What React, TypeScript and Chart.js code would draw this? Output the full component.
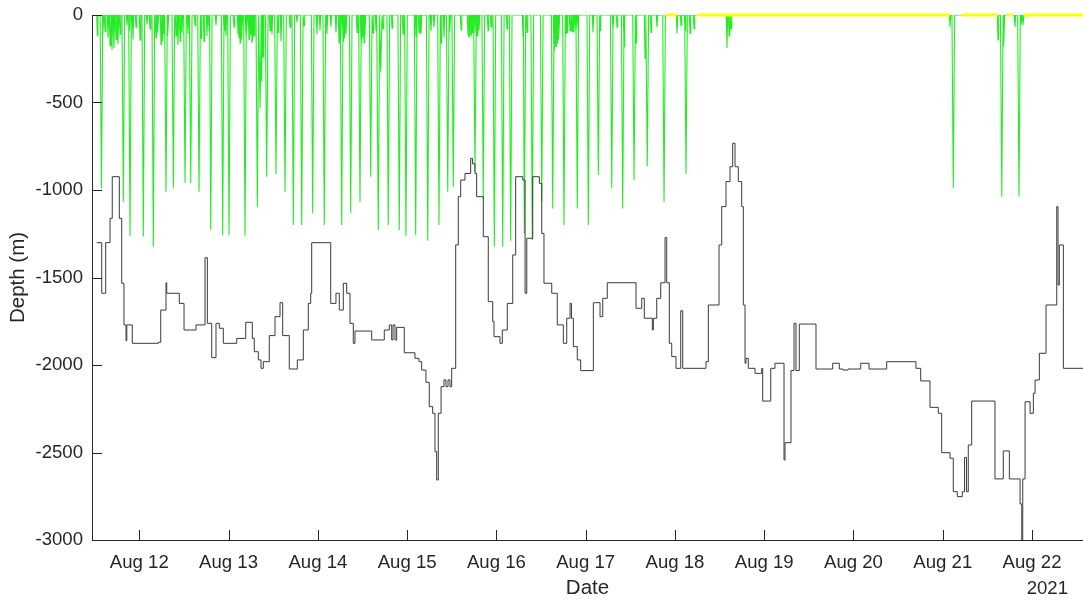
import React, { useEffect, useRef } from 'react';
import { Chart, registerables } from 'chart.js';

Chart.register(...registerables);

// ---------- axes ----------
const X_MIN = 11.47; // day of August 2021
const X_MAX = 22.571;
const X_TICKS = [12, 13, 14, 15, 16, 17, 18, 19, 20, 21, 22];
const X_TICK_LABELS = ['Aug 12', 'Aug 13', 'Aug 14', 'Aug 15', 'Aug 16', 'Aug 17', 'Aug 18', 'Aug 19', 'Aug 20', 'Aug 21', 'Aug 22'];
const YEAR_LABEL = '2021';
const X_TITLE = 'Date';
const Y_MIN = -3000;
const Y_MAX = 0;
const Y_TICKS = [0, -500, -1000, -1500, -2000, -2500, -3000];
const Y_TICK_LABELS = ['0', '-500', '-1000', '-1500', '-2000', '-2500', '-3000'];
const Y_TITLE = 'Depth (m)';

// ---------- seafloor depth (step series: value holds from its time to the next) ----------
const BATHY_T = [
  11.523, 11.579, 11.623, 11.672, 11.697, 11.776, 11.803, 11.828, 11.851, 11.860, 11.921,
  12.213, 12.240, 12.299, 12.307, 12.448, 12.501, 12.635, 12.736, 12.762, 12.811, 12.859, 12.896, 12.941,
  13.091, 13.192, 13.266, 13.288, 13.333, 13.363, 13.389, 13.456, 13.520, 13.576, 13.606, 13.680, 13.770, 13.837, 13.893, 13.920, 13.931,
  14.144, 14.203, 14.240, 14.285, 14.323, 14.360, 14.397, 14.416, 14.603, 14.744, 14.800, 14.827, 14.842, 14.864, 14.883, 14.968,
  15.088, 15.133, 15.163, 15.211, 15.248, 15.286, 15.312, 15.331, 15.349, 15.380, 15.413, 15.435, 15.458, 15.480, 15.499, 15.544, 15.573, 15.600, 15.648, 15.712, 15.732, 15.760, 15.779, 15.853, 15.909, 15.959, 15.973,
  16.040, 16.066, 16.122, 16.183, 16.216, 16.295, 16.321, 16.340, 16.407, 16.481, 16.508, 16.533, 16.620, 16.682, 16.750, 16.788, 16.825, 16.841, 16.862, 16.906, 16.944,
  17.086, 17.161, 17.191, 17.242, 17.564, 17.628, 17.657, 17.747, 17.758, 17.796, 17.841, 17.889, 17.908, 17.937, 17.964,
  18.012, 18.065, 18.087, 18.348, 18.374, 18.494, 18.524, 18.572, 18.617, 18.647, 18.673, 18.710, 18.748, 18.766, 18.785, 18.796, 18.822, 18.897, 18.972, 18.983,
  19.073, 19.121, 19.222, 19.233, 19.300, 19.334, 19.356, 19.393, 19.580, 19.767, 19.841, 19.883, 19.939,
  20.081, 20.174, 20.372, 20.700, 20.753, 20.857, 20.950, 20.988,
  21.081, 21.118, 21.163, 21.219, 21.244, 21.266, 21.286, 21.324, 21.585, 21.678, 21.746, 21.866, 21.885, 21.896, 21.922, 21.978,
  22.015, 22.034, 22.082, 22.157, 22.277, 22.291, 22.306, 22.351, 22.600,
];
const BATHY_D = [
  -1301, -1590, -1301, -1162, -924, -1162, -1533, -1771, -1861, -1771, -1876,
  -1870, -1686, -1530, -1590, -1648, -1800, -1771, -1387, -1762, -1958, -1762, -1790, -1876,
  -1848, -1756, -1848, -1924, -1971, -2019, -1981, -1832, -1724, -1644, -1832, -2023, -1971, -1800, -1648, -1590, -1301,
  -1648, -1590, -1686, -1533, -1590, -1762, -1876, -1806, -1857, -1800, -1771, -1857, -1771, -1857, -1785, -1930,
  -1962, -1981, -2029, -2099, -2238, -2276, -2495, -2657, -2276, -2124, -2085, -2124, -2085, -2124, -2019, -1314, -1038, -943, -905, -819, -850, -905, -1038, -1267, -1638, -1752, -1838,
  -1876, -1800, -1648, -1371, -924, -943, -1590, -1276, -924, -962, -1248, -1533, -1590, -1771, -1876, -1733, -1648, -1733, -1895, -1971, -2032,
  -1644, -1724, -1619, -1530, -1676, -1619, -1733, -1800, -1733, -1619, -1530, -1271, -1530, -1876, -1952,
  -2019, -1690, -2019, -1981, -1657, -1314, -1095, -952, -867, -733, -867, -952, -1095, -1657, -1990, -1962, -2019, -2048, -2019, -2206,
  -2019, -1990, -2543, -2444, -2032, -1762, -2032, -1766, -2023, -1990, -2023, -2029, -2023,
  -1990, -2023, -1981, -2019, -2091, -2242, -2276, -2501,
  -2533, -2724, -2752, -2724, -2528, -2724, -2457, -2206, -2651, -2491, -2651, -2794, -3000, -2651, -2210, -2276,
  -2162, -2086, -1933, -1657, -1095, -1543, -1314, -2019, -2019,
];

// ---------- dive profile ----------
const DIVE_START = 11.523;
const DIVE_END = 22.6;
const DEEP_T = [
  11.576, 11.821, 11.896, 12.045, 12.157, 12.299, 12.381, 12.512, 12.576, 12.669, 12.800, 12.934, 13.005, 13.184,
  13.322, 13.352, 13.427, 13.531, 13.632, 13.725, 13.819, 13.942, 14.072, 14.267, 14.368, 14.472, 14.592, 14.677,
  14.704, 14.789, 14.912, 14.987, 15.096, 15.231, 15.357, 15.455, 15.517, 15.760, 15.853, 15.977, 16.071, 16.160,
  16.313, 16.402, 16.508, 16.631, 16.757, 16.906, 17.030, 17.142, 17.292, 17.415, 17.542, 17.690, 17.878, 18.124,
  21.118, 21.661, 21.854,
];
const DEEP_D = [
  -990, -1067, -1263, -1265, -1324, -1010, -990, -958, -960, -1010, -1229, -1259, -1259, -1262,
  -1099, -531, -924, -909, -1010, -1200, -1200, -1133, -1200, -1200, -1130, -1067, -924, -1229,
  -324, -1200, -1229, -1263, -1257, -1290, -1200, -1010, -981, -895, -1050, -1324, -1324, -1290,
  -1248, -1286, -1067, -1105, -1200, -1105, -1200, -914, -990, -1105, -943, -863, -1067, -909,
  -990, -1038, -1038,
];
const SHALLOW_T = [
  11.529, 11.593, 11.616, 11.649, 11.672, 11.694, 11.716, 11.739, 11.761, 11.784, 11.862, 11.890, 11.929, 11.963,
  12.008, 12.086, 12.120, 12.187, 12.209, 12.243, 12.265, 12.321, 12.411, 12.433, 12.456, 12.478, 12.545, 12.624,
  12.691, 12.725, 12.758, 12.781, 12.859, 12.949, 12.971, 13.061, 13.106, 13.128, 13.150, 13.206, 13.229, 13.262,
  13.285, 13.374, 13.386, 13.464, 13.486, 13.554, 13.587, 13.688, 13.766, 13.845, 13.990, 14.024, 14.102, 14.147,
  14.203, 14.237, 14.282, 14.315, 14.439, 14.494, 14.528, 14.618, 14.651, 14.730, 14.831, 14.954, 15.099, 15.133,
  15.155, 15.267, 15.301, 15.380, 15.413, 15.480, 15.604, 15.682, 15.704, 15.727, 15.783, 15.805, 15.906, 15.940,
  16.119, 16.298, 16.343, 16.645, 16.668, 16.690, 16.780, 16.825, 16.869, 16.914, 17.082, 17.161, 17.306, 17.351,
  17.430, 17.564, 17.665, 17.732, 17.799, 18.023, 18.068, 18.113, 18.169, 18.214, 18.583, 18.606, 18.628,
  21.081, 21.619, 21.686, 21.809, 21.885, 21.903,
  12.198, 12.254, 12.276, 13.117, 13.139, 13.195, 13.240, 13.273, 14.248, 14.259, 14.293, 14.483, 14.505, 14.517,
  15.693, 15.716, 15.749, 15.771, 16.656, 16.679, 16.701, 16.791, 16.847, 16.891,
];
const SHALLOW_D = [
  -118, -150, -95, -130, -175, -200, -190, -140, -165, -110, -60, -90, -140, -70,
  -142, -55, -80, -130, -100, -170, -150, -120, -120, -171, -150, -100, -110, -60,
  -133, -150, -120, -90, -57, -90, -120, -70, -110, -160, -140, -90, -140, -160,
  -120, -381, -240, -90, -110, -100, -150, -70, -40, -60, -110, -90, -110, -70,
  -100, -160, -150, -110, -100, -160, -150, -103, -90, -80, -75, -108, -124, -100,
  -110, -91, -70, -160, -130, -95, -85, -110, -124, -100, -120, -90, -90, -70,
  -80, -124, -100, -219, -180, -150, -105, -90, -100, -80, -100, -90, -90, -70,
  -181, -160, -248, -100, -70, -105, -60, -90, -105, -80, -189, -120, -80,
  -68, -143, -181, -68, -57, -40,
  -120, -140, -110, -130, -150, -120, -110, -150, -140, -120, -130, -140, -130, -160,
  -120, -115, -110, -105, -200, -160, -140, -100, -95, -100,
];
const DEEP_HALF_DURATION = 0.015; // days
const SHALLOW_HALF_DURATION = 0.008;

// ---------- time at surface (yellow) ----------
const SURFACE_START = [17.900, 18.247, 21.212, 21.716, 21.910];
const SURFACE_END = [18.023, 21.081, 21.619, 21.787, 22.600];

// ---------- styles ----------
const AXIS_COLOR = '#262626';
const TICK_FONT = 18.6;
const TITLE_FONT = 20.5;
const FONT_FAMILY = '"Liberation Sans", Arial, Helvetica, sans-serif';

function buildBathy() {
  return BATHY_T.map((t, i) => ({ x: t, y: BATHY_D[i] }));
}

function buildDives() {
  const dives = [
    ...DEEP_T.map((t, i) => ({ t, d: DEEP_D[i], h: DEEP_HALF_DURATION })),
    ...SHALLOW_T.map((t, i) => ({ t, d: SHALLOW_D[i], h: SHALLOW_HALF_DURATION })),
  ].sort((a, b) => a.t - b.t);
  const pts: { x: number; y: number }[] = [{ x: DIVE_START, y: 0 }];
  dives.forEach((dv) => {
    pts.push({ x: dv.t - dv.h, y: 0 });
    pts.push({ x: dv.t, y: dv.d });
    pts.push({ x: dv.t + dv.h, y: 0 });
  });
  pts.push({ x: DIVE_END, y: 0 });
  return pts;
}

function buildSurface() {
  const pts: { x: number; y: number | null }[] = [];
  SURFACE_START.forEach((s, i) => {
    pts.push({ x: s, y: 0 });
    pts.push({ x: SURFACE_END[i], y: 0 });
    pts.push({ x: SURFACE_END[i], y: null });
  });
  return pts;
}

const axisDecor = {
  id: 'axisDecor',
  afterDraw(chart: any) {
    const { ctx, chartArea, scales } = chart;
    const xs = scales.x;
    const ys = scales.y;
    ctx.save();
    ctx.strokeStyle = AXIS_COLOR;
    ctx.lineWidth = 1;
    ctx.beginPath();
    X_TICKS.forEach((v) => {
      const px = Math.round(xs.getPixelForValue(v)) + 0.5;
      ctx.moveTo(px, chartArea.bottom);
      ctx.lineTo(px, chartArea.bottom - 10);
    });
    Y_TICKS.forEach((v) => {
      const py = Math.round(ys.getPixelForValue(v)) + 0.5;
      ctx.moveTo(chartArea.left, py);
      ctx.lineTo(chartArea.left + 10, py);
    });
    ctx.stroke();
    ctx.fillStyle = AXIS_COLOR;
    ctx.font = `${TICK_FONT}px ${FONT_FAMILY}`;
    ctx.textAlign = 'right';
    ctx.textBaseline = 'middle';
    ctx.fillText(YEAR_LABEL, chartArea.right - 15, chartArea.bottom + 49);
    ctx.restore();
  },
};

export default function App() {
  const ref = useRef<HTMLCanvasElement | null>(null);
  useEffect(() => {
    if (!ref.current) return;
    const chart = new Chart(ref.current, {
      type: 'line',
      data: {
        datasets: [
          {
            label: 'Surface',
            data: buildSurface(),
            borderColor: '#ffff00',
            borderWidth: 3,
            pointRadius: 0,
            spanGaps: false,
            tension: 0,
            clip: false,
          },
          {
            label: 'Seafloor',
            data: buildBathy(),
            borderColor: '#3a3a3a',
            borderWidth: 1,
            pointRadius: 0,
            stepped: 'before',
            tension: 0,
          },
          {
            label: 'Dives',
            data: buildDives(),
            borderColor: 'rgb(40,235,40)',
            borderWidth: 1.1,
            pointRadius: 0,
            tension: 0,
          },
        ],
      },
      options: {
        responsive: false,
        animation: false,
        devicePixelRatio: 1,
        parsing: false,
        normalized: true,
        events: [],
        layout: { padding: { top: 15, left: 0, right: 0, bottom: 0 } },
        plugins: { legend: { display: false }, tooltip: { enabled: false }, title: { display: false } },
        scales: {
          x: {
            type: 'linear',
            min: X_MIN,
            max: X_MAX,
            afterFit: (s: any) => { s.height = 61; s.paddingLeft = 0; s.paddingRight = 0; s.paddingTop = 0; s.paddingBottom = 0; },
            afterBuildTicks: (s: any) => { s.ticks = X_TICKS.map((v) => ({ value: v })); },
            grid: { display: false, drawTicks: false },
            border: { display: true, color: AXIS_COLOR, width: 1 },
            ticks: {
              autoSkip: false,
              maxRotation: 0,
              padding: 12,
              color: AXIS_COLOR,
              font: { family: FONT_FAMILY, size: TICK_FONT },
              callback: (v: any) => X_TICK_LABELS[X_TICKS.indexOf(Number(v))] ?? '',
            },
            title: {
              display: true,
              text: X_TITLE,
              color: AXIS_COLOR,
              font: { family: FONT_FAMILY, size: TITLE_FONT },
              padding: { top: 0, bottom: 0 },
            },
          },
          y: {
            type: 'linear',
            min: Y_MIN,
            max: Y_MAX,
            afterFit: (s: any) => { s.width = 92; s.paddingTop = 0; s.paddingBottom = 0; s.paddingLeft = 0; s.paddingRight = 0; },
            afterBuildTicks: (s: any) => { s.ticks = Y_TICKS.map((v) => ({ value: v })); },
            grid: { display: false, drawTicks: false },
            border: { display: true, color: AXIS_COLOR, width: 1 },
            ticks: {
              autoSkip: false,
              padding: 9,
              color: AXIS_COLOR,
              font: { family: FONT_FAMILY, size: TICK_FONT },
              callback: (v: any) => Y_TICK_LABELS[Y_TICKS.indexOf(Number(v))] ?? '',
            },
            title: {
              display: true,
              text: Y_TITLE,
              color: AXIS_COLOR,
              font: { family: FONT_FAMILY, size: TITLE_FONT },
              padding: { top: 6, bottom: 0 },
            },
          },
        },
      },
      plugins: [axisDecor],
    } as any);
    return () => chart.destroy();
  }, []);

  return (
    <div style={{ position: 'absolute', left: 0, top: 0, width: 1083, height: 601, background: '#ffffff' }}>
      <canvas ref={ref} width={1083} height={601} style={{ display: 'block', width: 1083, height: 601 }} />
    </div>
  );
}
